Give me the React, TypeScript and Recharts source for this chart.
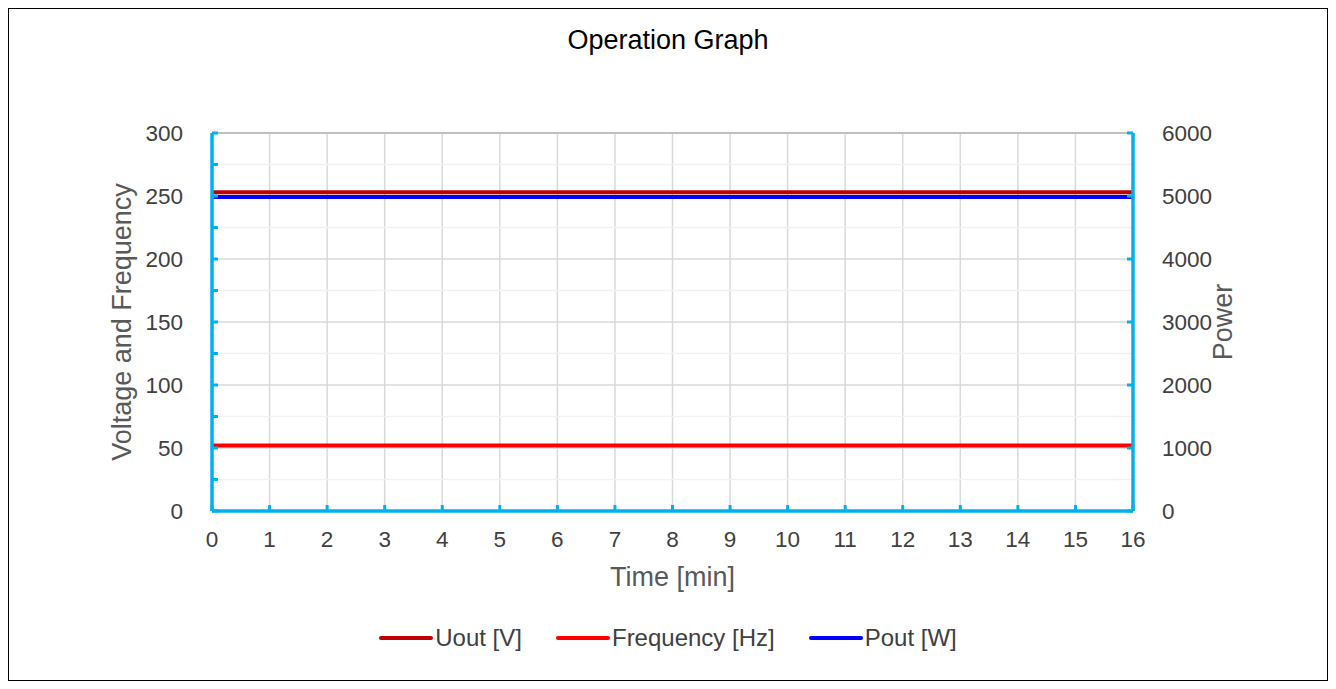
import React from 'react';
import {
    LineChart,
    Line,
    XAxis,
    YAxis,
    CartesianGrid,
    ReferenceLine,
    Legend,
} from 'recharts';

// time axis (minutes)
const minutes = [0, 1, 2, 3, 4, 5, 6, 7, 8, 9, 10, 11, 12, 13, 14, 15, 16];
// readings
const uout = [253, 253, 253, 253, 253, 253, 253, 253, 253, 253, 253, 253, 253, 253, 253, 253, 253];
const frequency = [52, 52, 52, 52, 52, 52, 52, 52, 52, 52, 52, 52, 52, 52, 52, 52, 52];
const pout = [4985, 4985, 4985, 4985, 4985, 4985, 4985, 4985, 4985, 4985, 4985, 4985, 4985, 4985, 4985, 4985, 4985];

const leftTicks = [0, 25, 50, 75, 100, 125, 150, 175, 200, 225, 250, 275, 300];
const leftMajor = [50, 100, 150, 200, 250];
const leftMinor = [25, 75, 125, 175, 225, 275];
const rightTicks = [0, 1000, 2000, 3000, 4000, 5000, 6000];

const data = minutes.map((t, i) => ({
    t,
    uout: uout[i],
    freq: frequency[i],
    pout: pout[i],
}));

const AXIS_BLUE = '#00B0F0';
const FONT = '"Liberation Sans", Arial, sans-serif';
const TICK_SIZE = 22.5;
const TITLE_SIZE = 27;

const legendItems = [
    { name: 'Uout [V]', color: '#C00000' },
    { name: 'Frequency [Hz]', color: '#FF0000' },
    { name: 'Pout [W]', color: '#0000FF' },
];

const ChartLegend = () => (
    <div style={{ display: 'flex', justifyContent: 'center', paddingTop: 23, fontFamily: FONT, fontSize: 24, color: '#404040', lineHeight: '27px' }}>
        {legendItems.map(item => (
            <div key={item.name} style={{ display: 'flex', alignItems: 'center', margin: '0 17px' }}>
                <span style={{ display: 'inline-block', width: 54, height: 4, background: item.color, borderRadius: 2, marginRight: 2 }} />
                <span>{item.name}</span>
            </div>
        ))}
    </div>
);

export default function App() {
    return (
        <div style={{ width: 1318, height: 671, border: '1px solid #000', position: 'relative', fontFamily: FONT }}>
            <div style={{ position: 'absolute', top: 16, width: '100%', textAlign: 'center', fontSize: TITLE_SIZE, color: '#000' }}>
                Operation Graph
            </div>
            <LineChart
                width={1318}
                height={671}
                data={data}
                margin={{ top: 124, right: 0, left: 0, bottom: 19 }}
            >
                <CartesianGrid horizontal={false} stroke="#D9D9D9" strokeWidth={1.5} />
                {leftMinor.map(v => (
                    <ReferenceLine key={`mi${v}`} yAxisId="left" y={v} stroke="#F2F2F2" strokeWidth={1.5} />
                ))}
                {leftMajor.map(v => (
                    <ReferenceLine key={`ma${v}`} yAxisId="left" y={v} stroke="#D9D9D9" strokeWidth={1.5} />
                ))}
                <ReferenceLine yAxisId="left" y={300} stroke="#BFBFBF" strokeWidth={2} />
                <XAxis
                    dataKey="t"
                    type="number"
                    domain={[0, 16]}
                    ticks={minutes}
                    interval={0}
                    height={90}
                    axisLine={{ stroke: AXIS_BLUE, strokeWidth: 3.5 }}
                    tickLine={{ stroke: AXIS_BLUE, strokeWidth: 3 }}
                    tickSize={-6}
                    tickMargin={26}
                    tick={{ fill: '#404040', fontSize: TICK_SIZE, fontFamily: FONT }}
                    label={{ value: 'Time [min]', position: 'insideTop', offset: 56, fill: '#595959', fontSize: TITLE_SIZE, fontFamily: FONT }}
                />
                <YAxis
                    yAxisId="left"
                    domain={[0, 300]}
                    ticks={leftTicks}
                    interval={0}
                    width={203}
                    axisLine={{ stroke: AXIS_BLUE, strokeWidth: 3.5 }}
                    tickLine={{ stroke: AXIS_BLUE, strokeWidth: 3 }}
                    tickSize={-6}
                    tickMargin={35}
                    tickFormatter={(v: number) => (v % 50 === 0 ? String(v) : '')}
                    tick={{ fill: '#404040', fontSize: TICK_SIZE, fontFamily: FONT }}
                    label={{
                        content: (props: any) => {
                            const vb = props.viewBox;
                            const cx = vb.x + vb.width - 90;
                            const cy = vb.y + vb.height / 2;
                            return (
                                <text x={cx} y={cy} transform={`rotate(-90, ${cx}, ${cy})`} textAnchor="middle" dominantBaseline="central" fill="#595959" fontSize={TITLE_SIZE} fontFamily={FONT}>
                                    Voltage and Frequency
                                </text>
                            );
                        },
                    }}
                />
                <YAxis
                    yAxisId="right"
                    orientation="right"
                    domain={[0, 6000]}
                    ticks={rightTicks}
                    interval={0}
                    width={194}
                    axisLine={{ stroke: AXIS_BLUE, strokeWidth: 3.5 }}
                    tickLine={{ stroke: AXIS_BLUE, strokeWidth: 3 }}
                    tickSize={-6}
                    tickMargin={35}
                    tick={{ fill: '#404040', fontSize: TICK_SIZE, fontFamily: FONT }}
                    label={{
                        content: (props: any) => {
                            const vb = props.viewBox;
                            const cx = vb.x + 90;
                            const cy = vb.y + vb.height / 2;
                            return (
                                <text x={cx} y={cy} transform={`rotate(-90, ${cx}, ${cy})`} textAnchor="middle" dominantBaseline="central" fill="#595959" fontSize={TITLE_SIZE} fontFamily={FONT}>
                                    Power
                                </text>
                            );
                        },
                    }}
                />
                <Line yAxisId="left" dataKey="uout" name="Uout [V]" stroke="#C00000" strokeWidth={4} dot={false} isAnimationActive={false} />
                <Line yAxisId="left" dataKey="freq" name="Frequency [Hz]" stroke="#FF0000" strokeWidth={4} dot={false} isAnimationActive={false} />
                <Line yAxisId="right" dataKey="pout" name="Pout [W]" stroke="#0000FF" strokeWidth={4} dot={false} isAnimationActive={false} />
                <Legend verticalAlign="bottom" height={60} content={() => <ChartLegend />} />
            </LineChart>
        </div>
    );
}
